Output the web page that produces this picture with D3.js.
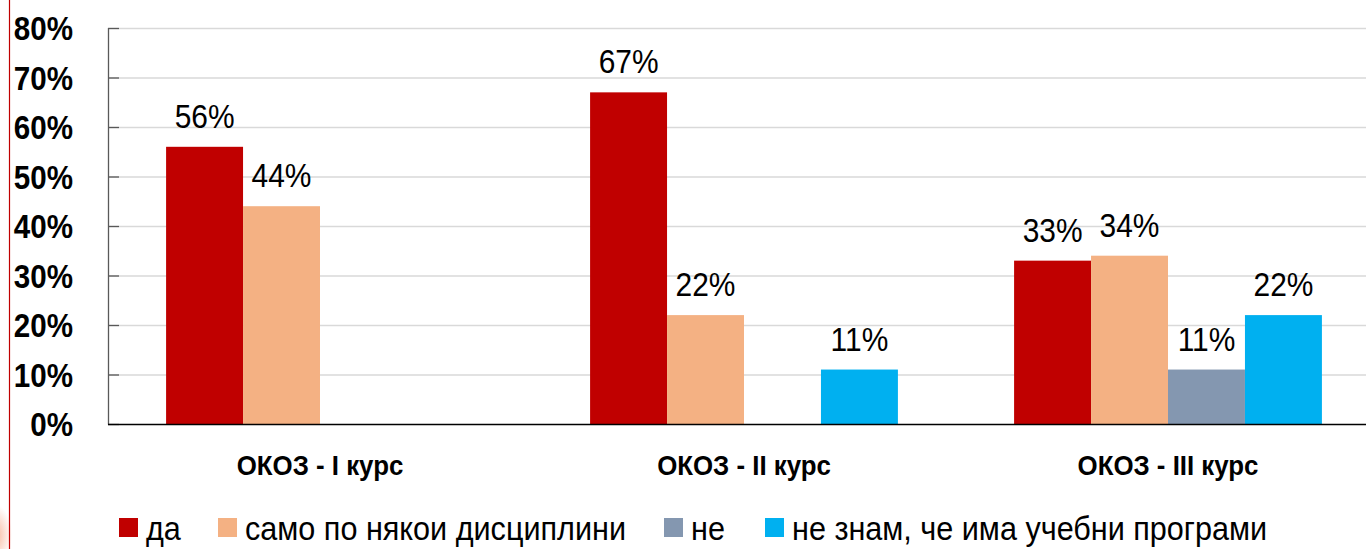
<!DOCTYPE html>
<html><head><meta charset="utf-8">
<script src="https://cdn.jsdelivr.net/npm/d3@7"></script>
<style>body{margin:0;background:#fff}svg{display:block}</style>
</head><body>
<svg id="c" width="1366" height="549"></svg>
<script>
const categories = ["ОКОЗ - I курс", "ОКОЗ - II курс", "ОКОЗ - III курс"];
const seriesNames = ["да", "само по някои дисциплини", "не", "не знам, че има учебни програми"];
const seriesColors = ["#c00000", "#f4b183", "#8497b0", "#00b0f0"];
const valDa = [56, 67, 33];
const valSamo = [44, 22, 34];
const valNe = [null, null, 11];
const valNeZnam = [null, 11, 22];
const yTicks = [0, 10, 20, 30, 40, 50, 60, 70, 80];

const series = [valDa, valSamo, valNe, valNeZnam];
const svg = d3.select("#c");
const FN = "'Liberation Sans',Arial,sans-serif";

// decorative left border
const defs = svg.append("defs");
const rg = defs.append("radialGradient").attr("id","blob");
rg.append("stop").attr("offset","0%").attr("stop-color","#f6a98a").attr("stop-opacity",0.8);
rg.append("stop").attr("offset","100%").attr("stop-color","#f6a98a").attr("stop-opacity",0);
svg.append("ellipse").attr("cx",-4).attr("cy",535).attr("rx",16).attr("ry",30).attr("fill","url(#blob)");
svg.append("line").attr("x1",9.5).attr("x2",9.5).attr("y1",0).attr("y2",549).attr("stroke","#c00000").attr("stroke-width",1.2);

const x0 = d3.scaleBand().domain(categories).range([108, 1380]).paddingInner(0.274).paddingOuter(0.137);
const x1 = d3.scaleBand().domain(d3.range(4)).range([0, x0.bandwidth()]);
const y = d3.scaleLinear().domain([0, 80]).range([424, 28]);

function narrowText(sel, x, yy, sx) {
  return sel.append("text").attr("transform", `translate(${x},${yy}) scale(${sx},1)`);
}

// gridlines
svg.append("g").selectAll("line").data(yTicks.filter(d=>d>0)).join("line")
  .attr("x1",108).attr("x2",1366).attr("y1",d=>y(d)+0.5).attr("y2",d=>y(d)+0.5)
  .attr("stroke","#d9d9d9").attr("stroke-width",1.3);

// bars
const g = svg.append("g");
categories.forEach((c, ci) => {
  series.forEach((s, si) => {
    const v = s[ci];
    if (v == null) return;
    g.append("rect").attr("x", x0(c) + x1(si)).attr("y", y(v))
      .attr("width", x1.bandwidth()).attr("height", y(0) - y(v)).attr("fill", seriesColors[si]);
    narrowText(g, x0(c) + x1(si) + x1.bandwidth()/2, y(v) - 19, 0.88)
      .attr("text-anchor","middle").attr("font-family",FN).attr("font-size",34)
      .attr("fill","#000").text(v + "%");
  });
});

// y axis
const yAxis = d3.axisRight(y).tickValues(yTicks).tickSize(11).tickFormat("");
const ya = svg.append("g").attr("transform","translate(108,0)").call(yAxis);
ya.select(".domain").remove();
ya.selectAll(".tick line").attr("stroke","#595959").attr("stroke-width",1.3);
svg.append("line").attr("x1",108.5).attr("x2",108.5).attr("y1",28).attr("y2",424.5).attr("stroke","#595959").attr("stroke-width",1.3);
svg.append("line").attr("x1",108).attr("x2",1366).attr("y1",424.5).attr("y2",424.5).attr("stroke","#000").attr("stroke-width",1.3);

const yl = svg.append("g");
yTicks.forEach(d => {
  narrowText(yl, 73, y(d)+12, 0.87).attr("text-anchor","end")
    .attr("font-family",FN).attr("font-weight","bold").attr("font-size",34)
    .text(d+"%");
});

// category labels
const cl = svg.append("g");
categories.forEach(d => {
  narrowText(cl, x0(d)+x0.bandwidth()/2, 475, 0.94).attr("text-anchor","middle")
    .attr("font-family",FN).attr("font-weight","bold").attr("font-size",27.5)
    .text(d);
});

// legend
const legX = [119, 218, 664, 765];
const lg = svg.append("g");
seriesNames.forEach((n, i) => {
  lg.append("rect").attr("x",legX[i]).attr("y",518).attr("width",19).attr("height",19).attr("fill",seriesColors[i]);
  narrowText(lg, legX[i]+27, 540, 0.9).attr("font-family",FN).attr("font-size",34).text(n);
});
</script>
</body></html>
